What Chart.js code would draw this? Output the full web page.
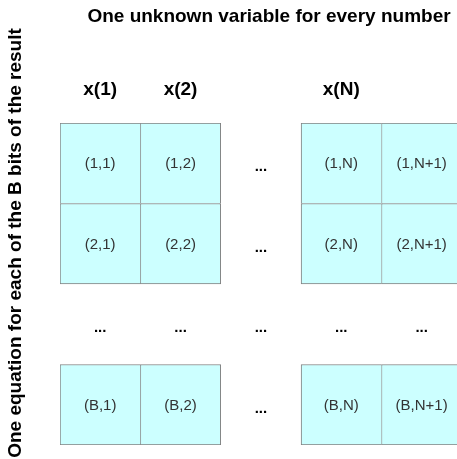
<!DOCTYPE html>
<html>
<head>
<meta charset="utf-8">
<script src="https://cdn.jsdelivr.net/npm/chart.js@4"></script>
<style>
  html, body { margin: 0; padding: 0; background: #fff; overflow: hidden; }
</style>
</head>
<body>
<canvas id="grid" width="457" height="459"></canvas>
<script>
// Rows are equations (one per bit), columns are unknowns
const rows = ['1', '2', '...', 'B'];
const cols = ['1', '2', '...', 'N', 'N+1'];
const cellRows = ['1', '2', 'B'];
const cellCols = ['1', '2', 'N', 'N+1'];
const headers = ['x(1)', 'x(2)', '', 'x(N)', ''];

const titleText = 'One unknown variable for every number';
const sideText = 'One equation for each of the B bits of the result';

const font = 'Liberation Sans, Arial, sans-serif';

// one dataset per visible column, each cell is a floating bar [k, k+1]
const datasets = cellCols.map(c => {
    const k = cols.indexOf(c);
    return {
        label: c,
        data: rows.map(r => cellRows.includes(r) ? [k, k + 1] : null),
        backgroundColor: '#ccffff',
        borderColor: '#808080',
        borderSkipped: false,
        borderWidth: ctx => {
            const nextCol = cols[k + 1];
            const nextRow = rows[ctx.dataIndex + 1];
            return {
                top: 1,
                left: 1,
                right: cellCols.includes(nextCol) ? 0 : 1,
                bottom: cellRows.includes(nextRow) ? 0 : 1
            };
        },
        categoryPercentage: 1,
        barPercentage: 1
    };
});

const textPlugin = {
    id: 'gridText',
    afterDatasetsDraw(chart) {
        const ctx = chart.ctx;
        const xs = chart.scales.x;
        const ys = chart.scales.y;
        const area = chart.chartArea;
        ctx.save();
        ctx.textAlign = 'center';
        ctx.textBaseline = 'middle';

        // cell labels and the dots in the gaps
        rows.forEach((r, ri) => {
            const y = ys.getPixelForValue(ri);
            cols.forEach((c, ci) => {
                const x = xs.getPixelForValue(ci + 0.5);
                if (r === '...' || c === '...') {
                    ctx.fillStyle = '#000';
                    ctx.font = 'bold 15px ' + font;
                    ctx.fillText('...', x, y + 4);
                } else {
                    ctx.fillStyle = '#333';
                    ctx.font = '15px ' + font;
                    ctx.fillText('(' + r + ',' + c + ')', x, y + 1);
                }
            });
        });

        // column headers
        ctx.fillStyle = '#000';
        ctx.font = 'bold 19px ' + font;
        headers.forEach((h, ci) => {
            if (h) ctx.fillText(h, xs.getPixelForValue(ci + 0.5), area.top - 33);
        });

        // title
        ctx.fillText(titleText, 269, 17);

        // side label
        ctx.translate(16, 243);
        ctx.rotate(-Math.PI / 2);
        ctx.fillText(sideText, 0, 0);
        ctx.restore();
    }
};

new Chart(document.getElementById('grid'), {
    type: 'bar',
    data: { labels: rows, datasets: datasets },
    options: {
        indexAxis: 'y',
        responsive: false,
        animation: false,
        devicePixelRatio: 1,
        layout: { padding: { left: 60, top: 123, right: 0, bottom: 14 } },
        scales: {
            x: { type: 'linear', min: 0, max: 4.94, display: false },
            y: { stacked: true, display: false }
        },
        plugins: {
            legend: { display: false },
            tooltip: { enabled: false }
        }
    },
    plugins: [textPlugin]
});
</script>
</body>
</html>
